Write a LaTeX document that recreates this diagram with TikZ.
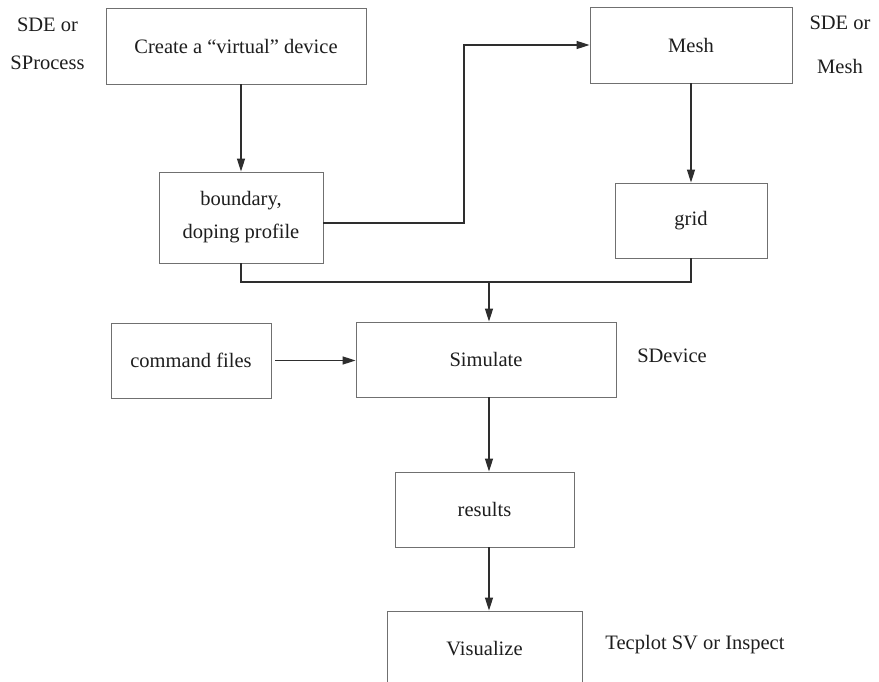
\documentclass[tikz,border=0pt]{standalone}
\usepackage{fontspec}
\setmainfont{LiberationSerif}[Extension=.ttf, UprightFont=*-Regular, BoldFont=*-Bold, ItalicFont=*-Italic, BoldItalicFont=*-BoldItalic]
\usetikzlibrary{arrows.meta}
\definecolor{boxgray}{HTML}{707070}
\definecolor{linegray}{HTML}{2E2E2E}
\definecolor{txt}{HTML}{1E1E1E}
\begin{document}
\begin{tikzpicture}[x=1pt,y=-1pt,
  flowbox/.style={draw=boxgray, line width=0.9pt, inner sep=0pt, text=txt,
    font=\fontsize{20.5}{24}\selectfont, align=center},
  lbl/.style={text=txt, font=\fontsize{20.5}{24}\selectfont, align=center, inner sep=0pt},
  conn/.style={draw=linegray, line width=1.4pt},
  arr/.style={conn, -{Triangle[length=13pt,width=8pt]}}
]
\fill[white] (0,0) rectangle (879,682);
\useasboundingbox (0,0) rectangle (879,682);
\clip (0,0) rectangle (879,682);

\node[flowbox, minimum width=260pt, minimum height=76pt] (create) at (236,46) {Create a “virtual” device};
\node[flowbox, minimum width=202pt, minimum height=76pt] (mesh) at (691,45) {Mesh};
\node[flowbox, minimum width=164pt, minimum height=91pt] (bnd) at (241,217.5) {boundary,\\[9pt]doping profile};
\node[flowbox, minimum width=152pt, minimum height=75pt] (grid) at (691,220.5) {grid};
\node[flowbox, minimum width=160pt, minimum height=75pt] (cmd) at (191,360.5) {command files};
\node[flowbox, minimum width=260pt, minimum height=75pt] (sim) at (486,359.5) {Simulate};
\node[flowbox, minimum width=179pt, minimum height=75pt] (res) at (484.5,509.5) {results};
\node[flowbox, minimum width=195pt, minimum height=75pt] (vis) at (484.5,648.5) {Visualize};

\node[lbl] (l1) at (47.5,44) {SDE or\\[14pt]SProcess};
\node[lbl] (l2) at (840,45) {SDE or\\[20pt]Mesh};
\node[lbl] (l3) at (672,356) {SDevice};
\node[lbl] (l4) at (695,645) {Tecplot SV or Inspect};

\draw[arr] (bnd.north |- create.south) -- (bnd.north);
\coordinate (b1) at (464,223);
\draw[arr] (bnd.east |- b1) -- (b1) |- (mesh.west);
\draw[arr] (mesh.south) -- (grid.north);
\coordinate (j) at (489,282);
\draw[conn] (bnd.south) |- (j) -| (grid.south);
\draw[arr] (j) -- (j |- sim.north);
\draw[arr, shorten <=4pt] (cmd.east) -- (cmd.east -| sim.west);
\draw[arr] (sim.south -| j) -- (res.north -| j);
\draw[arr] (res.south -| j) -- (vis.north -| j);
\end{tikzpicture}
\end{document}
